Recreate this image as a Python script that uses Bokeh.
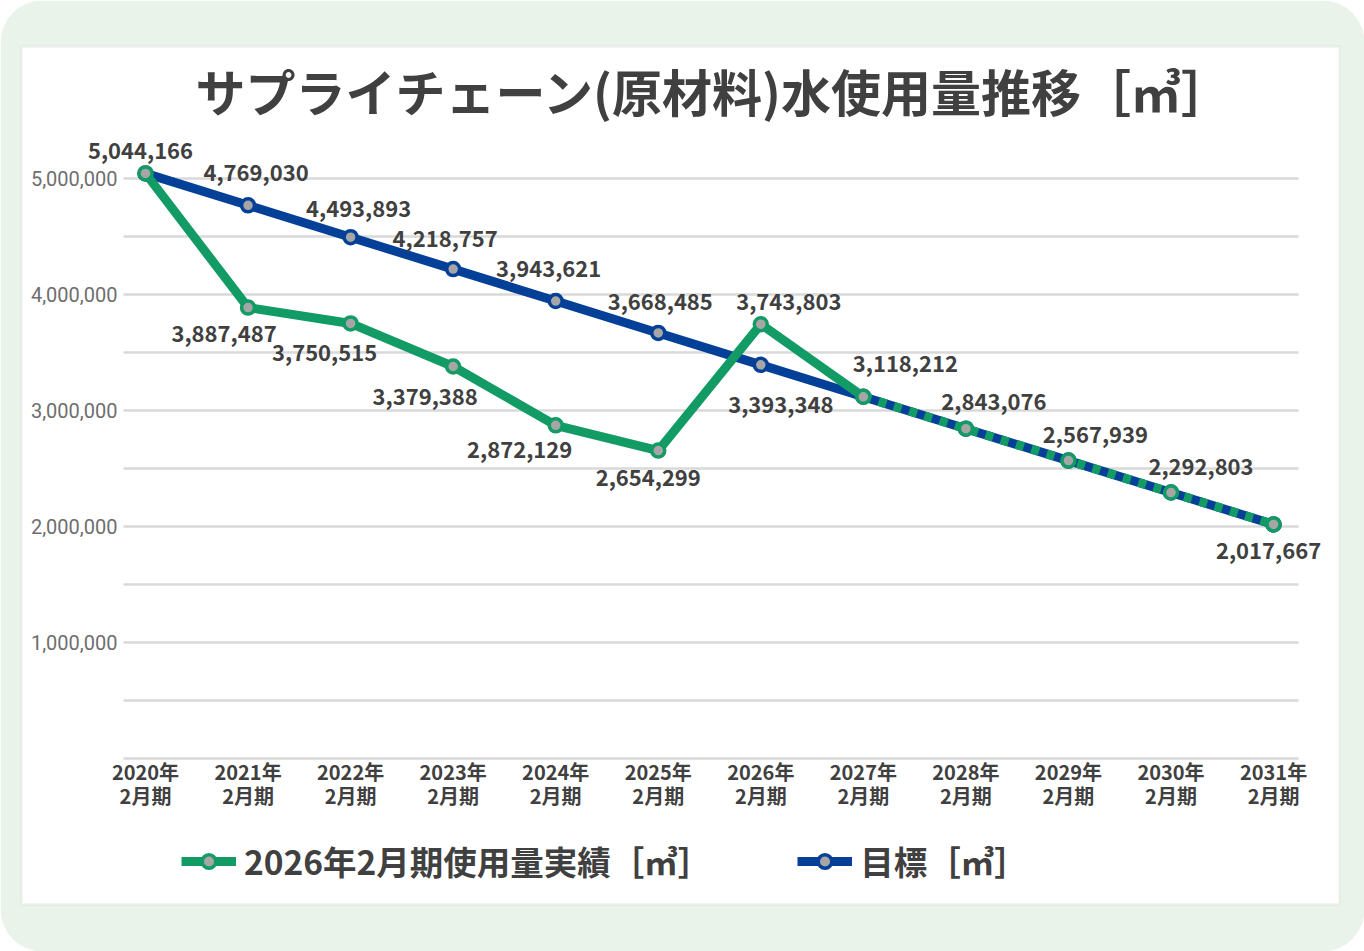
from bokeh.plotting import figure
from bokeh.models import (ColumnDataSource, FixedTicker, NumeralTickFormatter, Legend,
                          LegendItem, BoxAnnotation, Label, Range1d)
from bokeh.core.properties import value
from bokeh.embed import file_html
from bokeh.resources import INLINE

# ---------------- data ----------------
periods = ["2020年\n2月期", "2021年\n2月期", "2022年\n2月期", "2023年\n2月期",
           "2024年\n2月期", "2025年\n2月期", "2026年\n2月期", "2027年\n2月期",
           "2028年\n2月期", "2029年\n2月期", "2030年\n2月期", "2031年\n2月期"]
target = [5044166, 4769030, 4493893, 4218757, 3943621, 3668485,
          3393348, 3118212, 2843076, 2567939, 2292803, 2017667]
actual = [5044166, 3887487, 3750515, 3379388, 2872129, 2654299, 3743803]
y_ticks = [1000000, 2000000, 3000000, 4000000, 5000000]
grid_levels = [0, 500000, 1000000, 1500000, 2000000, 2500000,
               3000000, 3500000, 4000000, 4500000, 5000000]
title_text = "サプライチェーン(原材料)水使用量推移［㎥］"
actual_name = "2026年2月期使用量実績［㎥］"
target_name = "目標［㎥］"

# ---------------- style ----------------
GREEN = "#129b65"
BLUE = "#043f98"
MARK = "#a6a6a6"
TXT = "#404040"
FONT = "Noto Sans CJK JP"

W, H = 1364, 951
X0, STEP = 145, 102.55        # pixel of first category, pixels per category
Y0, PX_PER_M = 758, 116.0     # pixel of value 0, pixels per million
PLOT_LEFT, PLOT_RIGHT = 123, 1298

# whole canvas is the frame; axes are pinned inside it
x_start = (0 - X0) / STEP
x_end = (W - X0) / STEP
y_start = -(H - Y0) / PX_PER_M * 1e6
y_end = Y0 / PX_PER_M * 1e6
grid_x0 = (PLOT_LEFT - X0) / STEP
grid_x1 = (PLOT_RIGHT - X0) / STEP

idx = list(range(len(periods)))

p = figure(width=W, height=H, output_backend="svg", toolbar_location=None,
           x_range=Range1d(x_start, x_end), y_range=Range1d(y_start, y_end),
           min_border=0, min_border_left=0, min_border_right=0,
           min_border_top=0, min_border_bottom=0,
           background_fill_color="white", border_fill_color="white",
           outline_line_color=None)
p.xgrid.visible = False
p.ygrid.visible = False

# background: rounded light-green card and white panel
bg = BoxAnnotation(left=0, right=W, top=0, bottom=H,
                   left_units="canvas", right_units="canvas",
                   top_units="canvas", bottom_units="canvas",
                   fill_color="#e9f3ea", fill_alpha=1, line_color=None,
                   border_radius=42, level="image")
panel = BoxAnnotation(left=21, right=1339, top=46, bottom=904,
                      left_units="canvas", right_units="canvas",
                      top_units="canvas", bottom_units="canvas",
                      fill_color="white", fill_alpha=1, line_color="#d9d9d9",
                      line_width=3, level="image")
p.add_layout(bg)
p.add_layout(panel)

# grid lines
gsrc = ColumnDataSource(dict(y=grid_levels))
p.segment(x0=grid_x0, x1=grid_x1, y0="y", y1="y", source=gsrc,
          line_color="#d9d9d9", line_width=2.5)

# series
blue_line = p.line(idx, target, line_color=BLUE, line_width=9, line_join="round")
blue_mk = p.scatter(idx, target, size=13, fill_color=MARK, line_color=BLUE, line_width=3.5)

n = len(actual)
green_line = p.line(idx[:n + 1], actual + [target[n]], line_color=GREEN,
                    line_width=9, line_join="round")
green_dash = p.line(idx[n:], target[n:], line_color=GREEN, line_width=9, line_dash="8 8")
green_mk = p.scatter(idx, actual + target[n:], size=13, fill_color=MARK,
                     line_color=GREEN, line_width=3.5)

# data labels (pixel offsets from their points)
blue_off = [(-5, -23), (8, -33), (8, -29), (-8, -31), (-7, -33), (2, -31),
            (20, 40), (42, -33), (28, -27), (27, -26), (30, -26), (-5, 26)]
green_off = [(-24, 26), (-26, 29), (-28, 30), (-36, 24), (-10, 27), (28, -23)]
lx, ly, lt, lxo, lyo = [], [], [], [], []
for i, v in enumerate(target):
    lx.append(i); ly.append(v); lt.append(f"{v:,}")
    lxo.append(blue_off[i][0]); lyo.append(blue_off[i][1])
for k, v in enumerate(actual[1:]):
    i = k + 1
    lx.append(i); ly.append(v); lt.append(f"{v:,}")
    lxo.append(green_off[k][0]); lyo.append(green_off[k][1])
lsrc = ColumnDataSource(dict(x=lx, y=ly, t=lt, xo=lxo, yo=lyo))
p.text(x="x", y="y", text="t", x_offset="xo", y_offset="yo", source=lsrc,
       text_align="center", text_baseline="middle", text_font=value(FONT),
       text_font_size="22px", text_font_style="bold", text_color=TXT)

# axes (pinned at the plot-area edges)
xa = p.xaxis[0]
xa.fixed_location = 0
xa.ticker = FixedTicker(ticks=idx)
xa.major_label_overrides = {i: periods[i] for i in idx}
xa.axis_line_color = None
xa.major_tick_line_color = None
xa.minor_tick_line_color = None
xa.major_tick_out = 0
xa.major_tick_in = 0
xa.major_label_standoff = -2
xa.major_label_text_font = FONT
xa.major_label_text_font_size = "20px"
xa.major_label_text_font_style = "bold"
xa.major_label_text_color = TXT
xa.major_label_text_line_height = 0.86

ya = p.yaxis[0]
ya.fixed_location = grid_x0
ya.ticker = FixedTicker(ticks=y_ticks)
ya.formatter = NumeralTickFormatter(format="0,0")
ya.axis_line_color = None
ya.major_tick_line_color = None
ya.minor_tick_line_color = None
ya.major_tick_out = 0
ya.major_tick_in = 0
ya.major_label_standoff = 6
ya.major_label_text_font = "Roboto"
ya.major_label_text_font_size = "20px"
ya.major_label_text_color = "#6e6e6e"

# title
p.add_layout(Label(x=714, y=89, x_units="canvas", y_units="canvas", text=title_text,
                   text_align="center", text_baseline="middle", text_font=FONT,
                   text_font_size="50px", text_font_style="bold", text_color=TXT))

# legend
legend = Legend(items=[LegendItem(label=actual_name, renderers=[green_line, green_mk]),
                       LegendItem(label=target_name, renderers=[blue_line, blue_mk])],
                orientation="horizontal", location=(181, 66),
                label_text_font=FONT, label_text_font_size="33.5px",
                label_text_font_style="bold", label_text_color=TXT,
                glyph_width=55, glyph_height=34, label_standoff=8, spacing=86,
                padding=0, margin=0, border_line_color=None,
                background_fill_alpha=0)
p.add_layout(legend, "center")

open("out.html", "w").write(file_html(p, INLINE))
